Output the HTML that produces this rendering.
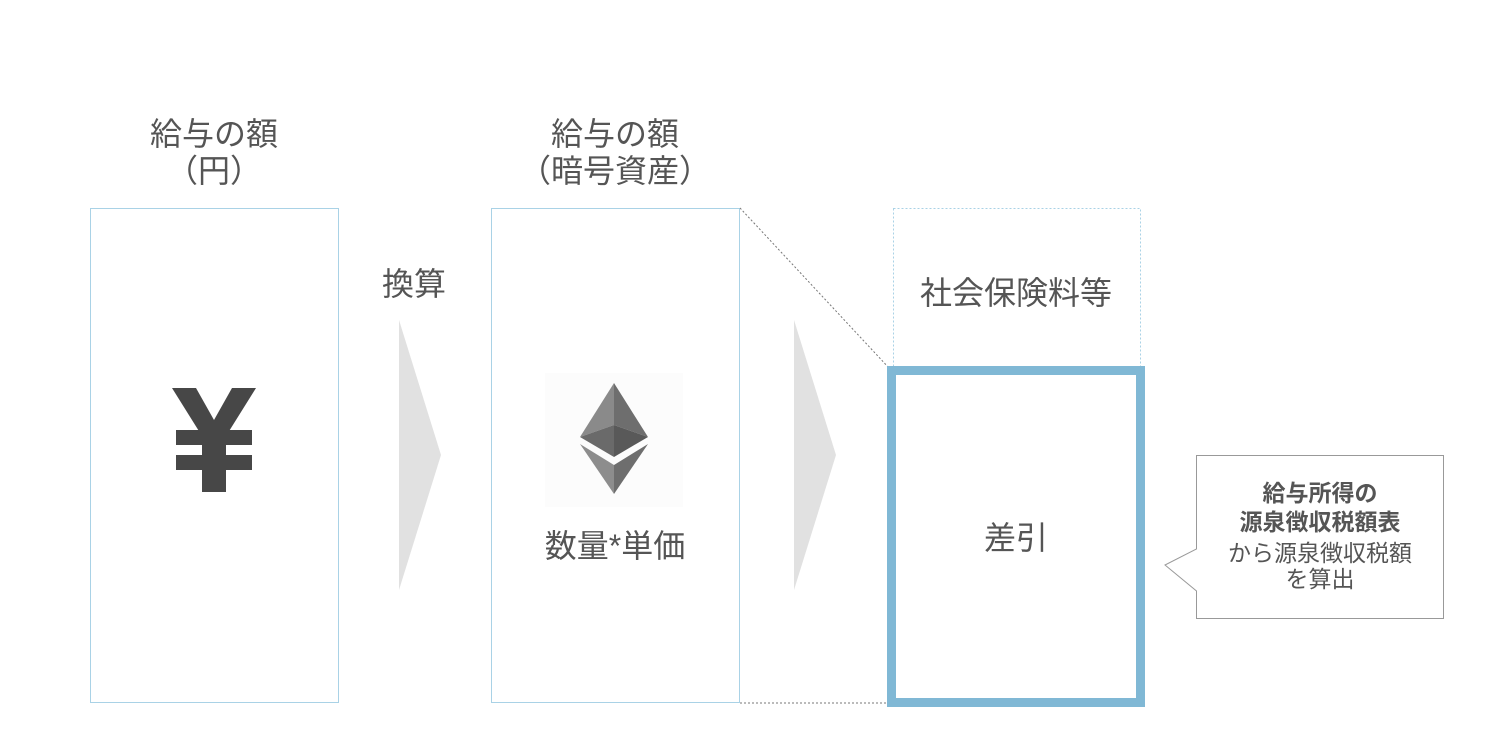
<!DOCTYPE html>
<html><head><meta charset="utf-8"><style>
html,body{margin:0;padding:0;background:#fff;}
svg{display:block;}
text{font-family:"Liberation Sans","Noto Sans CJK JP",sans-serif;fill:#555;}
</style></head><body>
<svg width="1500" height="755" viewBox="0 0 1500 755" xmlns="http://www.w3.org/2000/svg">
<rect x="0" y="0" width="1500" height="755" fill="#fff"/>
<text x="214" y="145" font-size="32" text-anchor="middle">給与の額</text>
<text x="214" y="182" font-size="32" text-anchor="middle">（円）</text>
<text x="615" y="145" font-size="32" text-anchor="middle">給与の額</text>
<text x="615" y="182" font-size="32" text-anchor="middle">（暗号資産）</text>
<text x="414" y="295" font-size="32" text-anchor="middle">換算</text>
<rect x="90.5" y="208.5" width="248" height="494" fill="none" stroke="#a9d2e6" stroke-width="1"/>
<g fill="#474747">
<polygon points="172,388 196,388 214,420 232,388 256,388 226,436 226,492 202,492 202,436"/>
<rect x="176" y="430" width="76" height="15"/>
<rect x="176" y="455" width="76" height="15"/>
</g>
<polygon points="399,320 441,455 399,590" fill="#e1e1e1"/>
<rect x="491.5" y="208.5" width="248" height="494" fill="none" stroke="#a9d2e6" stroke-width="1"/>
<rect x="545" y="373" width="138" height="134" fill="#fcfcfc"/>
<polygon points="614,383 580,437 614,425" fill="#8a8a8a"/>
<polygon points="614,383 648,437 614,425" fill="#6e6e6e"/>
<polygon points="580,437 614,425 614,457" fill="#6a6a6a"/>
<polygon points="648,437 614,425 614,457" fill="#595959"/>
<polygon points="580,444 614,465 614,494" fill="#8d8d8d"/>
<polygon points="648,444 614,465 614,494" fill="#6e6e6e"/>
<text x="615" y="557" font-size="32" text-anchor="middle">数量*単価</text>
<line x1="740" y1="208" x2="889" y2="368" stroke="#777" stroke-width="1" stroke-dasharray="2,2"/>
<line x1="740" y1="703" x2="889" y2="703" stroke="#777" stroke-width="1" stroke-dasharray="2,2"/>
<polygon points="794,320 836,455 794,590" fill="#e1e1e1"/>
<rect x="893.5" y="208.5" width="247" height="160" fill="none" stroke="#a9d2e6" stroke-width="1" stroke-dasharray="2,2"/>
<text x="1016" y="304" font-size="32" text-anchor="middle">社会保険料等</text>
<rect x="891.5" y="370.5" width="249" height="332" fill="none" stroke="#80b8d5" stroke-width="9"/>
<text x="1016" y="549" font-size="32" text-anchor="middle">差引</text>
<path d="M1196.5,455.5 L1443.5,455.5 L1443.5,618.5 L1196.5,618.5 L1196.5,591 L1165,565 L1196.5,549 Z" fill="#fff" stroke="#999" stroke-width="1"/>
<text x="1320" y="501" font-size="23" font-weight="bold" text-anchor="middle">給与所得の</text>
<text x="1320" y="530" font-size="23" font-weight="bold" text-anchor="middle">源泉徴収税額表</text>
<text x="1320" y="561" font-size="23" text-anchor="middle">から源泉徴収税額</text>
<text x="1320" y="587" font-size="23" text-anchor="middle">を算出</text>
</svg>
</body></html>
